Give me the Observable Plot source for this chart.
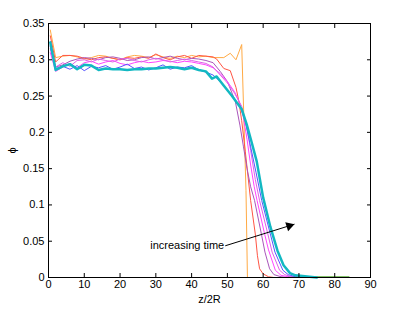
<!DOCTYPE html>
<html>
<head>
<meta charset="utf-8">
<script src="https://cdn.jsdelivr.net/npm/d3@7"></script>
<script src="https://cdn.jsdelivr.net/npm/@observablehq/plot@0.6"></script>
<style>
  html, body { margin: 0; padding: 0; background: #fff; }
</style>
</head>
<body>
<div id="chart"></div>
<script>
// ---- data: [z/2R, phi] pairs per time step ----
const orangeSeries = [[0.5,.341],[2,.303],[4,.305],[6,.306],[8,.304],[10,.301],[12,.303],[14,.306],[16,.305],[18,.302],[20,.300],[22,.304],[24,.306],[26,.305],[28,.303],[30,.307],[32,.304],[34,.302],[36,.305],[38,.303],[40,.306],[42,.304],[44,.305],[46,.303],[49,.303],[50.8,.309],[52.4,.300],[54,.321],[55.2,.12],[55.6,0],[58,0],[62,0],[66,0],[70,0]];
const redSeries = [[0.5,.333],[2,.297],[4,.306],[6,.306],[8,.305],[10,.302],[12,.300],[14,.303],[16,.304],[18,.302],[20,.300],[22,.303],[24,.302],[26,.304],[28,.302],[30,.308],[32,.303],[34,.300],[36,.304],[38,.306],[40,.302],[42,.306],[44,.305],[46,.304],[47,.301],[49,.288],[50.8,.285],[52.4,.262],[53.2,.243],[54,.216],[55,.174],[56.5,.106],[57.8,.06],[58.4,.03],[59,.012],[60,.005],[61.5,.001],[63,0],[66,0]];
const purpleSeries = [[0.5,.32],[2,.29],[4,.293],[6,.298],[8,.301],[10,.303],[12,.302],[14,.300],[16,.303],[18,.304],[20,.302],[22,.299],[24,.300],[26,.303],[28,.304],[30,.301],[32,.303],[34,.305],[36,.302],[38,.300],[40,.302],[42,.301],[44,.299],[46,.296],[48,.284],[50,.27],[52.2,.243],[53.5,.21],[54.5,.18],[55.5,.15],[56.5,.125],[57.6,.106],[59.5,.06],[60.5,.035],[61.8,.012],[63,.004],[65,.001],[67,0]];
const magentaSeries = [[0.5,.31],[2,.284],[4,.29],[6,.295],[8,.289],[10,.296],[12,.298],[14,.294],[16,.297],[18,.299],[20,.295],[22,.293],[24,.296],[26,.298],[28,.296],[30,.297],[32,.299],[34,.298],[36,.296],[38,.298],[40,.297],[42,.295],[44,.293],[46,.289],[48,.281],[50,.27],[52,.256],[53.5,.24],[54.5,.22],[55.5,.19],[56.5,.155],[57.5,.125],[58.3,.106],[60.4,.06],[61.5,.038],[63.4,.01],[65,.003],[67,.001],[69,0]];
const violetSeries = [[0.5,.315],[2,.29],[4,.296],[6,.291],[8,.299],[10,.300],[12,.297],[14,.301],[16,.299],[18,.297],[20,.301],[22,.302],[24,.299],[26,.297],[28,.300],[30,.302],[32,.300],[34,.297],[36,.299],[38,.301],[40,.299],[42,.297],[44,.295],[46,.29],[48,.279],[50,.268],[52,.254],[54,.236],[55.5,.205],[56.5,.175],[57.8,.135],[59,.106],[61.3,.06],[62.5,.035],[64.6,.01],[66,.004],[68,.001],[70,0]];
const blueSeries = [[0.5,.318],[2,.288],[4,.291],[6,.287],[8,.292],[10,.285],[12,.291],[14,.289],[16,.292],[18,.287],[20,.290],[22,.294],[24,.288],[26,.290],[28,.286],[30,.289],[32,.293],[34,.287],[36,.290],[38,.289],[40,.292],[42,.286],[44,.283],[46,.279],[48,.270],[50,.258],[51.3,.25],[53.6,.236],[55,.215],[56.5,.18],[58,.145],[59.6,.106],[62,.06],[63.3,.035],[65.5,.01],[67,.004],[69,.001],[71,0]];
const cyanSeries = [[0.5,.324],[2,.286],[4,.291],[6,.294],[8,.287],[10,.293],[12,.292],[14,.286],[16,.288],[18,.287],[20,.287],[22,.286],[24,.287],[26,.287],[28,.288],[30,.288],[32,.289],[34,.290],[36,.289],[38,.287],[40,.289],[42,.286],[44,.284],[45.7,.274],[47,.277],[48.9,.265],[51.3,.25],[54,.232],[55.4,.211],[56.8,.186],[58.2,.16],[60,.11],[62,.07],[64,.037],[65.7,.017],[67.5,.006],[69,.003],[71,.002],[73,.001],[75,0]];
const greenSeries = [[67,.001],[70,.001],[75,.001],[80,.001],[84,.001]];

const seriesNames  = ["green","orange","red","purple","magenta","violet","blue","cyan"];
const seriesData   = [greenSeries, orangeSeries, redSeries, purpleSeries, magentaSeries, violetSeries, blueSeries, cyanSeries];
const seriesColors = ["#55aa33","#ffaa44","#ff5544","#aa55bb","#ff44ff","#e060e8","#5555ff","#12b8c2"];
const seriesWidths = [1,1,1,1,1,1,1,2.5];

const xTicks = [0,10,20,30,40,50,60,70,80,90];
const yTicks = [0,0.05,0.1,0.15,0.2,0.25,0.3,0.35];
const yTickLabels = ["0","0.05","0.1","0.15","0.2","0.25","0.3","0.35"];

// annotation: arrow from text end to tip
const annotText = ["increasing time"];
const arrowStart = [49.4, 0.0437];
const arrowTip = [68.75, 0.0735];

const lineMarks = seriesData.map((s, i) =>
  Plot.line(s, {x: d => d[0], y: d => d[1], stroke: seriesColors[i], strokeWidth: seriesWidths[i]})
);

const arrowRow = [{x1: arrowStart[0], y1: arrowStart[1], x2: arrowTip[0], y2: arrowTip[1], label: annotText[0]}];

const chart = Plot.plot({
  width: 415,
  height: 313,
  marginLeft: 48,
  marginRight: 45,
  marginTop: 23,
  marginBottom: 36,
  style: {fontFamily: "'Liberation Sans', Arial, Helvetica, sans-serif", fontSize: "11px", background: "#fff", color: "#000"},
  x: {domain: [0, 90]},
  y: {domain: [0, 0.35]},
  marks: [
    ...lineMarks,
    Plot.link(arrowRow, {x1: "x1", y1: "y1", x2: "x2", y2: "y2", stroke: "#000", strokeWidth: 1}),
    Plot.dot(arrowRow, {x: "x2", y: "y2", symbol: "triangle", r: 3.5, fill: "#000", stroke: "none", rotate: 72.3, dx: -5.2, dy: 1.7}),
    Plot.text(arrowRow, {x: "x1", y: "y1", text: "label", textAnchor: "end", dx: -1, fill: "#000"}),
    Plot.frame({stroke: "#000"}),
    Plot.axisX({anchor: "bottom", ticks: xTicks, tickSize: -4, tickPadding: 7, label: "z/2R", labelArrow: "none", labelAnchor: "center", labelOffset: 25}),
    Plot.axisX({anchor: "top", ticks: xTicks, tickSize: -4, tickFormat: () => "", label: null}),
    Plot.axisY({anchor: "left", ticks: yTicks, tickSize: -4, tickPadding: 8, tickFormat: (d, i) => yTickLabels[yTicks.indexOf(d)], label: "ϕ", labelArrow: "none", labelAnchor: "center", labelOffset: 40}),
    Plot.axisY({anchor: "right", ticks: yTicks, tickSize: -4, tickFormat: () => "", label: null})
  ]
});
document.getElementById("chart").appendChild(chart);
</script>
</body>
</html>
